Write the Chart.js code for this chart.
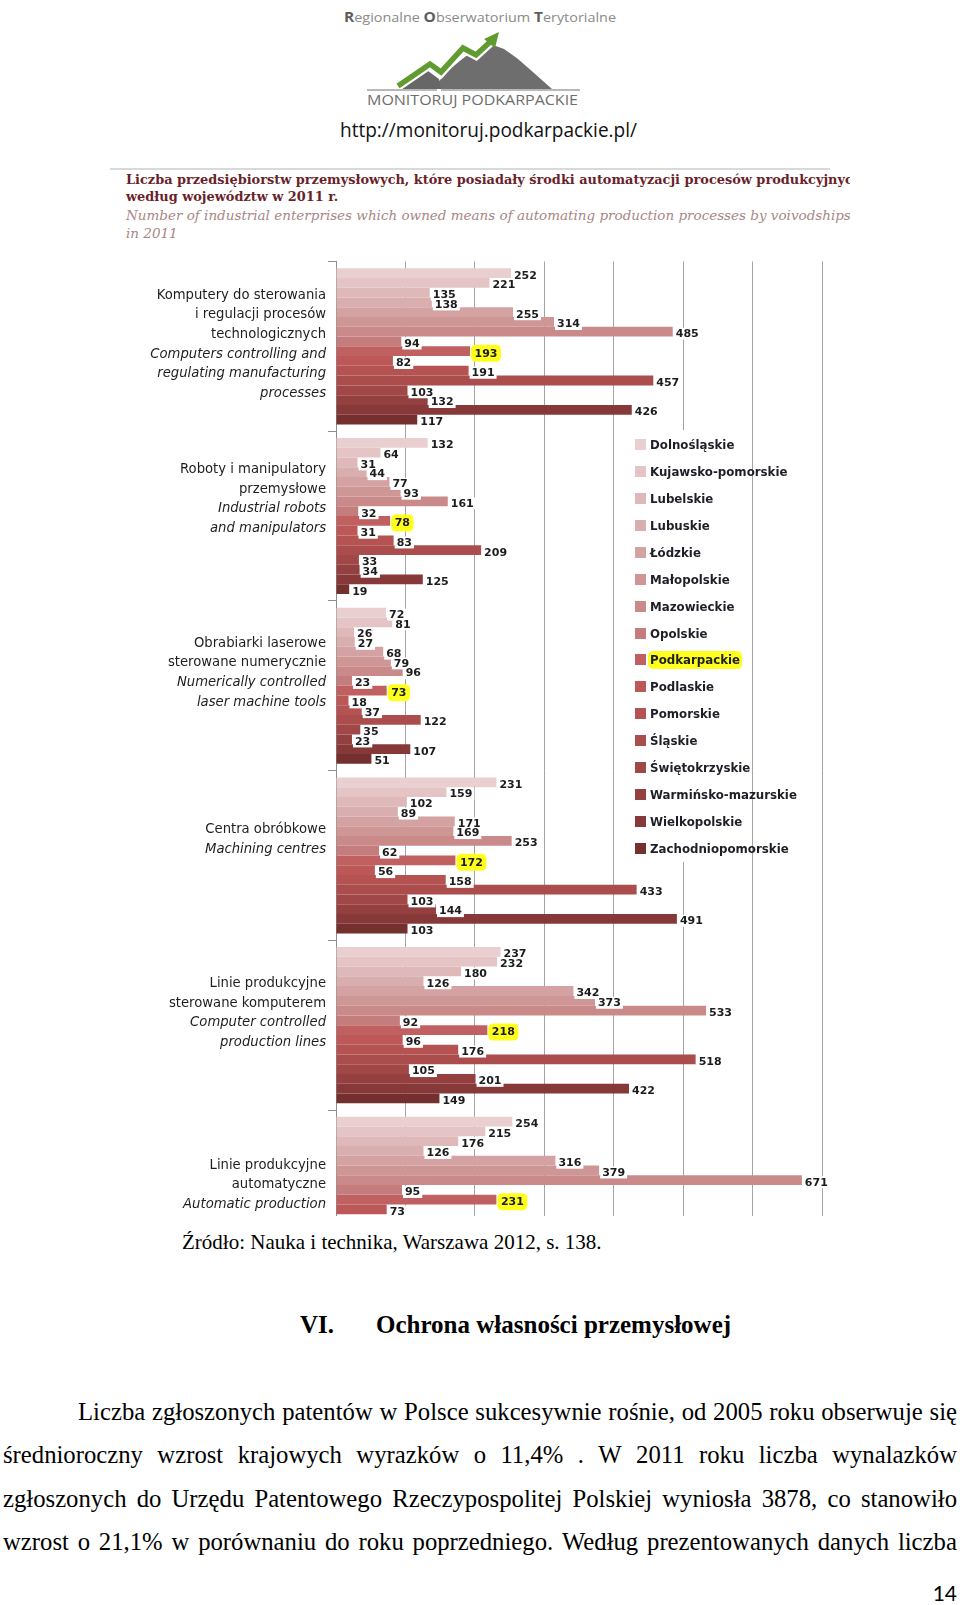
<!DOCTYPE html>
<html><head><meta charset="utf-8">
<script src="https://cdn.jsdelivr.net/npm/chart.js@4.4.1/dist/chart.umd.min.js"></script>
<style>
html,body{margin:0;padding:0;background:#fff;}
body{width:960px;height:1605px;position:relative;overflow:hidden;}
.abs{position:absolute;}
#chartClip{position:absolute;left:0;top:255px;width:960px;height:961px;overflow:hidden;}
#chartBox{position:absolute;left:0;top:0;width:960px;height:1035px;}
#legend{position:absolute;left:628px;top:430px;width:117px;height:432px;background:#fff;}
.li{position:absolute;left:0;height:18px;white-space:nowrap;font-family:"DejaVu Sans";font-weight:bold;font-size:11.8px;color:#1e1e28;line-height:18px;}
.sw{position:absolute;left:7px;top:3px;width:11px;height:11px;}
.lt{position:absolute;left:20px;top:0;padding:0 2px;}
.hl{background:#ffff1e;border-radius:5px;}
#source{left:182px;top:1230px;font-family:"Liberation Serif";font-size:21px;line-height:24px;color:#000;white-space:nowrap;}
.head{top:1310px;font-family:"Liberation Serif";font-weight:bold;font-size:25px;line-height:30px;color:#000;white-space:nowrap;}
.pl{position:absolute;left:3px;width:954px;display:flex;justify-content:space-between;font-family:"Liberation Serif";font-size:21.5px;line-height:43px;color:#000;white-space:nowrap;}
#pnum{right:3px;top:1581px;font-family:Lato;font-size:21px;line-height:24px;color:#000;}
</style></head>
<body>
<svg class="abs" style="left:0;top:0" width="960" height="250">
  <text x="344" y="22" textLength="272" lengthAdjust="spacingAndGlyphs" font-family="Open Sans" font-size="13" fill="#8a8a8a"><tspan font-weight="bold" fill="#5e5e5e" font-size="14">R</tspan>egionalne <tspan font-weight="bold" fill="#5e5e5e" font-size="14">O</tspan>bserwatorium <tspan font-weight="bold" fill="#5e5e5e" font-size="14">T</tspan>erytorialne</text>
  <path d="M432 89 L450 69 L461 60 L473 51 L484 47 L493 45 L504 49 L518 59 L534 73 L552 89 Z" fill="#6e6e6e"/>
  <path d="M401 89 L428 71 L439 79 L441 89 Z" fill="#676767"/>
  <polyline points="398,86 430,64 441,72 463,48 476,55 490,42" stroke="#fff" stroke-width="10" fill="none"/>
  <polyline points="398,86 430,64 441,72 463,48 476,55 490,42" stroke="#5f9b2f" stroke-width="5.5" fill="none"/>
  <polygon points="484,39 499,32 495,48" fill="#5f9b2f"/>
  <line x1="367" y1="90" x2="437" y2="90" stroke="#a0a0a0" stroke-width="1.6"/>
  <line x1="441" y1="90" x2="580" y2="90" stroke="#a0a0a0" stroke-width="1.6"/>
  <text x="367" y="105" textLength="211" lengthAdjust="spacingAndGlyphs" font-family="Open Sans" font-size="14" fill="#6e6e6e">MONITORUJ PODKARPACKIE</text>
  <text x="340" y="137" textLength="297" lengthAdjust="spacingAndGlyphs" font-family="Open Sans" font-size="20" fill="#111">http://monitoruj.podkarpackie.pl/</text>
  <defs><clipPath id="tclip"><rect x="100" y="160" width="750" height="90"/></clipPath></defs>
  <line x1="110" y1="169" x2="830" y2="169" stroke="#d9d9d9" stroke-width="2"/>
  <g clip-path="url(#tclip)" font-family="DejaVu Serif">
    <text x="126" y="184" font-weight="bold" font-size="12.9" fill="#6a1f2a">Liczba przedsiębiorstw przemysłowych, które posiadały środki automatyzacji procesów produkcyjnych</text>
    <text x="126" y="200.5" font-weight="bold" font-size="12.9" fill="#6a1f2a">według województw w 2011 r.</text>
    <text x="126" y="220" font-style="italic" font-size="13.5" fill="#a88686">Number of industrial enterprises which owned means of automating production processes by voivodships</text>
    <text x="126" y="237.5" font-style="italic" font-size="13.5" fill="#a88686">in 2011</text>
  </g>
</svg>

<div id="chartClip"><div id="chartBox"><canvas id="c"></canvas></div></div>
<div id="legend"></div>

<div id="source" class="abs">Źródło: Nauka i technika, Warszawa 2012, s. 138.</div>
<div class="abs head" style="left:300px">VI.</div>
<div class="abs head" style="left:376px">Ochrona własności przemysłowej</div>
<div id="para"></div>
<div id="pnum" class="abs">14</div>

<script>
// ---- DATA ----
const regions = ["Dolnośląskie","Kujawsko-pomorskie","Lubelskie","Lubuskie","Łódzkie","Małopolskie","Mazowieckie","Opolskie","Podkarpackie","Podlaskie","Pomorskie","Śląskie","Świętokrzyskie","Warmińsko-mazurskie","Wielkopolskie","Zachodniopomorskie"];
const categories = ["Komputery do sterowania i regulacji procesów technologicznych","Roboty i manipulatory przemysłowe","Obrabiarki laserowe sterowane numerycznie","Centra obróbkowe","Linie produkcyjne sterowane komputerem","Linie produkcyjne automatyczne"];
const catLinesPL = [["Komputery do sterowania","i regulacji procesów","technologicznych"],["Roboty i manipulatory","przemysłowe"],["Obrabiarki laserowe","sterowane numerycznie"],["Centra obróbkowe"],["Linie produkcyjne","sterowane komputerem"],["Linie produkcyjne","automatyczne"]];
const catLinesEN = [["Computers controlling and","regulating manufacturing","processes"],["Industrial robots","and manipulators"],["Numerically controlled","laser machine tools"],["Machining centres"],["Computer controlled","production lines"],["Automatic production","lines"]];
const komputery = [252,221,135,138,255,314,485,94,193,82,191,457,103,132,426,117];
const roboty = [132,64,31,44,77,93,161,32,78,31,83,209,33,34,125,19];
const obrabiarki = [72,81,26,27,68,79,96,23,73,18,37,122,35,23,107,51];
const centra = [231,159,102,89,171,169,253,62,172,56,158,433,103,144,491,103];
const linieSterowane = [237,232,180,126,342,373,533,92,218,96,176,518,105,201,422,149];
const linieAutomatyczne = [254,215,176,126,316,379,671,95,231,73,null,null,null,null,null,null];
const xTickValues = [0,100,200,300,400,500,600,700];
const highlighted = "Podkarpackie";

// ---- STYLE ----
const regionColors = ["#e9cfcf","#e4c4c4","#dfb9b9","#d9aeae","#d4a2a2","#cf9696","#ca8a8a","#c57c7c","#c06060","#bc5858","#b55353","#ac4d4d","#a24747","#954040","#873838","#742f2f"];
const labelShift = [-2,-17,-13,-16,-12,0];

const groups = [komputery, roboty, obrabiarki, centra, linieSterowane, linieAutomatyczne];
const datasets = regions.map((name,i)=>({
  label: name,
  data: groups.map(g=>g[i]),
  backgroundColor: regionColors[i],
  borderWidth: 0,
  barPercentage: 1.0,
  categoryPercentage: 0.92
}));

function rr(ctx,x,y,w,h,r){ctx.beginPath();ctx.moveTo(x+r,y);ctx.lineTo(x+w-r,y);ctx.quadraticCurveTo(x+w,y,x+w,y+r);ctx.lineTo(x+w,y+h-r);ctx.quadraticCurveTo(x+w,y+h,x+w-r,y+h);ctx.lineTo(x+r,y+h);ctx.quadraticCurveTo(x,y+h,x,y+h-r);ctx.lineTo(x,y+r);ctx.quadraticCurveTo(x,y,x+r,y);ctx.closePath();}

const valueLabels = {
  id:'valueLabels',
  afterDatasetsDraw(chart){
    const ctx = chart.ctx; ctx.save();
    ctx.font = 'bold 11px "DejaVu Sans"'; ctx.textBaseline='middle'; ctx.textAlign='left';
    chart.data.datasets.forEach((ds,di)=>{
      const meta = chart.getDatasetMeta(di);
      meta.data.forEach((bar,j)=>{
        const v = ds.data[j]; if(v==null) return;
        const t = String(v); const w = ctx.measureText(t).width;
        const x = bar.x + 1, y = bar.y + 2;
        if(ds.label===highlighted){
          ctx.fillStyle='#ffff1e'; rr(ctx,x,y-8.5,w+7,17,5); ctx.fill();
          ctx.fillStyle='#1c1c1c'; ctx.fillText(t,x+3.5,y+0.5);
        } else {
          ctx.fillStyle='#ffffff'; ctx.fillRect(x,y-6,w+4,12);
          ctx.fillStyle='#1c1c1c'; ctx.fillText(t,x+2,y+0.5);
        }
      });
    });
    ctx.restore();
  }
};

const catLabels = {
  id:'catLabels',
  afterDraw(chart){
    const ctx = chart.ctx; const ys = chart.scales.y; ctx.save();
    ctx.textAlign='right'; ctx.textBaseline='middle'; ctx.fillStyle='#1e1e1e';
    const lh = 19.6, xr = chart.chartArea.left - 10;
    categories.forEach((c,i)=>{
      const lines = catLinesPL[i].map(s=>[s,false]).concat(catLinesEN[i].map(s=>[s,true]));
      const cy = ys.getPixelForValue(i) + labelShift[i];
      lines.forEach((ln,k)=>{
        ctx.font = (ln[1]?'italic ':'') + '13.2px "DejaVu Sans"';
        ctx.fillText(ln[0], xr, cy + (k-(lines.length-1)/2)*lh);
      });
    });
    ctx.restore();
  }
};

new Chart(document.getElementById('c'),{
  type:'bar',
  data:{labels:categories, datasets},
  options:{
    indexAxis:'y', responsive:true, maintainAspectRatio:false, animation:false,
    layout:{padding:{left:328,right:138,top:6.5,bottom:10.3}},
    plugins:{legend:{display:false},tooltip:{enabled:false}},
    scales:{
      x:{min:xTickValues[0],max:xTickValues[xTickValues.length-1],
         afterBuildTicks(s){s.ticks=xTickValues.map(v=>({value:v}));},
         ticks:{display:false},grid:{color:'#a3a3a3',lineWidth:1,drawTicks:false},border:{display:false},
         afterFit(s){s.height=0;}},
      y:{ticks:{display:false},grid:{drawOnChartArea:false,drawTicks:true,tickLength:8,color:'#8e8e8e',offset:true},
         border:{display:true,color:'#8e8e8e',width:1},afterFit(s){s.width=8;}}
    }
  },
  plugins:[valueLabels,catLabels]
});

// legend
const lg = document.getElementById('legend');
regions.forEach((r,i)=>{
  const d = document.createElement('div'); d.className='li';
  d.style.top = (15 + i*26.93 - 9) + 'px';
  d.innerHTML = '<span class="sw" style="background:'+regionColors[i]+'"></span><span class="lt'+(r===highlighted?' hl':'')+'">'+r+'</span>';
  lg.appendChild(d);
});

// paragraph
const paraLines = [
  "Liczba zgłoszonych patentów w Polsce sukcesywnie rośnie, od 2005 roku obserwuje się",
  "średnioroczny wzrost krajowych wyrazków o 11,4% . W 2011 roku liczba wynalazków",
  "zgłoszonych do Urzędu Patentowego Rzeczypospolitej Polskiej  wyniosła 3878, co stanowiło",
  "wzrost o 21,1% w porównaniu do roku poprzedniego. Według prezentowanych danych liczba"
];
const para = document.getElementById('para');
const avail = [879, 954, 954, 954];
const mc = document.createElement('canvas').getContext('2d');
let fs = 40;
paraLines.forEach((l,i)=>{
  mc.font = '20px "Liberation Serif"';
  const w = mc.measureText(l.replace(/\s+/g,' ')).width;
  const s = 20 * (avail[i]-6) / w;
  if (s < fs) fs = s;
});
paraLines.forEach((l,i)=>{
  const d = document.createElement('div'); d.className='pl';
  d.style.top = (1390 + i*43.3) + 'px';
  d.style.fontSize = fs + 'px';
  if(i===0){d.style.left='78px'; d.style.width='879px';}
  l.split(/\s+/).forEach(w=>{const s=document.createElement('span'); s.textContent=w; d.appendChild(s);});
  para.appendChild(d);
});
</script>
</body></html>
